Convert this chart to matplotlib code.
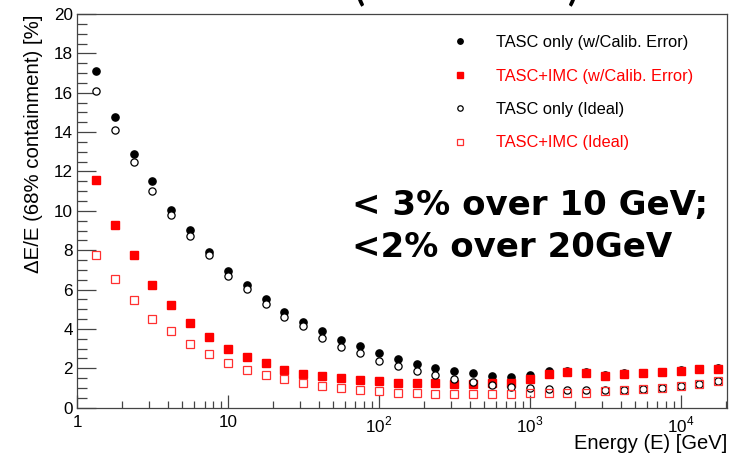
import matplotlib
matplotlib.use("Agg")
import matplotlib.pyplot as plt
from matplotlib.ticker import FixedLocator, FixedFormatter, LogLocator, MultipleLocator, NullFormatter

plt.rcParams['font.family'] = ['Liberation Sans', 'DejaVu Sans']
plt.rcParams['mathtext.fontset'] = 'custom'
plt.rcParams['mathtext.rm'] = 'Liberation Sans'

# energy bins (GeV), 8 per decade
energy = [1.33, 1.78, 2.37, 3.16, 4.22, 5.62, 7.50, 10.0, 13.3, 17.8,
          23.7, 31.6, 42.2, 56.2, 75.0, 100, 133, 178, 237, 316,
          422, 562, 750, 1000, 1334, 1778, 2371, 3162, 4217, 5623,
          7499, 10000, 13335, 17783]

# dE/E [%]
tasc_calib = [17.10, 14.75, 12.89, 11.53, 10.03, 9.04, 7.93, 6.96, 6.23, 5.52,
              4.86, 4.35, 3.91, 3.44, 3.12, 2.76, 2.49, 2.22, 2.04, 1.88,
              1.76, 1.61, 1.56, 1.68, 1.85, 1.86, 1.83, 1.66, 1.75, 1.78,
              1.83, 1.90, 1.97, 2.02]
imc_calib = [11.57, 9.30, 7.76, 6.22, 5.23, 4.29, 3.58, 2.98, 2.56, 2.25,
             1.93, 1.71, 1.61, 1.52, 1.41, 1.34, 1.27, 1.24, 1.24, 1.22,
             1.19, 1.24, 1.24, 1.47, 1.71, 1.80, 1.78, 1.63, 1.71, 1.76,
             1.80, 1.88, 1.95, 1.98]
tasc_ideal = [16.10, 14.09, 12.48, 11.02, 9.77, 8.72, 7.74, 6.71, 6.03, 5.25,
              4.62, 4.13, 3.52, 3.10, 2.78, 2.37, 2.12, 1.85, 1.65, 1.47,
              1.31, 1.15, 1.04, 0.99, 0.93, 0.91, 0.90, 0.88, 0.90, 0.97,
              1.02, 1.09, 1.20, 1.37]
imc_ideal = [7.76, 6.54, 5.45, 4.52, 3.91, 3.25, 2.71, 2.25, 1.93, 1.66,
             1.44, 1.27, 1.09, 0.99, 0.90, 0.85, 0.76, 0.73, 0.68, 0.68,
             0.68, 0.68, 0.68, 0.73, 0.73, 0.76, 0.76, 0.85, 0.88, 0.95,
             1.00, 1.09, 1.19, 1.36]

labels = ["TASC only (w/Calib. Error)", "TASC+IMC (w/Calib. Error)",
          "TASC only (Ideal)", "TASC+IMC (Ideal)"]
xtick_pos = [1, 10, 100, 1000, 10000]
xtick_labels = ["1", "10", r"$10^2$", r"$10^3$", r"$10^4$"]

fig = plt.figure(figsize=(7.39, 4.58), dpi=100)
ax = fig.add_axes([0.1042, 0.1098, 0.8796, 0.8596])

ax.plot(energy, tasc_calib, 'o', color='black', ms=5.2, ls='none', label=labels[0])
ax.plot(energy, imc_calib, 's', color='red', ms=5.2, ls='none', label=labels[1])
ax.plot(energy, tasc_ideal, 'o', mfc='white', mec='black', mew=0.9, ms=5.2, ls='none', label=labels[2])
ax.plot(energy, imc_ideal, 's', mfc='none', mec='#ff3030', mew=0.9, ms=5.2, ls='none', label=labels[3])

ax.set_xscale('log')
ax.set_xlim(1, 2.03e4)
ax.set_ylim(0, 20)

ax.xaxis.set_major_locator(FixedLocator(xtick_pos))
ax.xaxis.set_major_formatter(FixedFormatter(xtick_labels))
ax.xaxis.set_minor_locator(LogLocator(base=10, subs=range(2, 10), numticks=20))
ax.xaxis.set_minor_formatter(NullFormatter())
ax.yaxis.set_major_locator(MultipleLocator(2))
ax.yaxis.set_minor_locator(MultipleLocator(0.5))

ax.tick_params(axis='both', which='both', direction='in', top=False, right=False,
               color='#444444', width=0.9, labelsize=12.3)
ax.tick_params(axis='x', which='major', length=9.4, pad=5)
ax.tick_params(axis='x', which='minor', length=5)
ax.tick_params(axis='y', which='major', length=13.7, pad=3)
ax.tick_params(axis='y', which='minor', length=7.2)
for sp in ax.spines.values():
    sp.set_color('#444444')
    sp.set_linewidth(0.9)

ax.set_xlabel("Energy (E) [GeV]", fontsize=14.5, loc='right')
ax.xaxis.set_label_coords(1.0, -0.066)
ax.set_ylabel("ΔE/E (68% containment) [%]", fontsize=14.7, loc='top')
ax.yaxis.set_label_coords(-0.052, 1.0)

leg = ax.legend(loc='upper left', bbox_to_anchor=(0.564, 0.967), frameon=False,
                fontsize=11.8, handlelength=1.0, handletextpad=1.7,
                labelspacing=1.12, borderpad=0, markerscale=0.75)
for txt, col in zip(leg.get_texts(), ['black', 'red', 'black', 'red']):
    txt.set_color(col)

fig.text(0.4763, 0.5306, "< 3% over 10 GeV;", fontsize=24.5, fontweight='bold',
         family='DejaVu Sans', ha='left', va='baseline')
fig.text(0.4763, 0.4395, "<2% over 20GeV", fontsize=24.5, fontweight='bold',
         family='DejaVu Sans', ha='left', va='baseline')

# cut-off title above the frame
fig.text(0.480, 0.984, "(", fontsize=26, fontweight='bold', family='Lato', ha='left', va='bottom')
fig.text(0.769, 0.984, ")", fontsize=26, fontweight='bold', family='Lato', ha='left', va='bottom')

fig.savefig("out.png", dpi=100)
